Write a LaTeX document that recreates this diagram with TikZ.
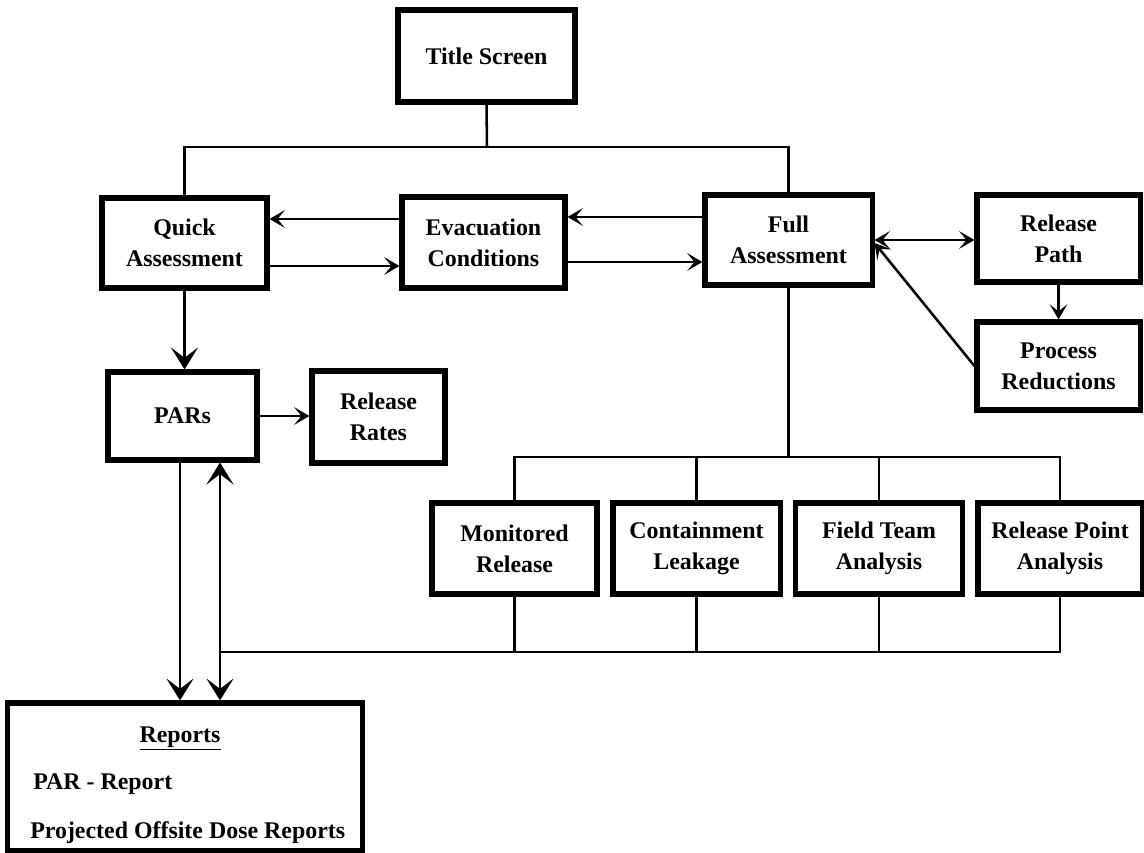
\documentclass[tikz,border=0pt]{standalone}
\usepackage{fontspec}
\setmainfont{Liberation Serif}
\usetikzlibrary{arrows.meta,positioning}
\tikzset{
  block/.style={
    shape = rectangle,
    draw,
    line width = 3.6pt,
    inner sep = 0pt,
    align = center,
    font = \bfseries\fontsize{17}{22}\selectfont
  },
  txt/.style={
    inner sep = 0pt,
    anchor = base west,
    font = \bfseries\fontsize{17}{22}\selectfont
  },
  link/.style={
    line width = 1.8pt
  },
  arr/.style={
    link,
    -{Stealth[length=3.8mm,width=4.4mm,inset=1.8mm]}
  },
  bigarr/.style={
    link,
    -{Stealth[length=5.5mm,width=6.8mm,inset=2.6mm]}
  },
  dblarr/.style={
    link,
    {Stealth[length=3.8mm,width=4.4mm,inset=1.8mm]}-{Stealth[length=3.8mm,width=4.4mm,inset=1.8mm]}
  },
  bigdbl/.style={
    link,
    {Stealth[length=5.5mm,width=6.8mm,inset=2.6mm]}-{Stealth[length=5.5mm,width=6.8mm,inset=2.6mm]}
  }
}

\begin{document}
\begin{tikzpicture}[x=0.025cm, y=-0.025cm]
        \useasboundingbox (0,0) rectangle (1144,853);
        \node[block, minimum width=4.425cm, minimum height=2.3cm] (title) at (486.5,56) {Title Screen};
        \node[block, minimum width=4.125cm, minimum height=2.25cm] (quick) at (184.5,243) {Quick\\Assessment};
        \node[block, minimum width=4.075cm, minimum height=2.275cm] (evac) at (483.5,242.5) {Evacuation\\Conditions};
        \node[block, minimum width=4.175cm, minimum height=2.25cm] (full) at (788.5,240) {Full\\Assessment};
        \node[block, minimum width=4.075cm, minimum height=2.175cm] (relpath) at (1058.5,238.5) {Release\\Path};
        \node[block, minimum width=4.075cm, minimum height=2.2cm] (procred) at (1058.5,366) {Process\\Reductions};
        \node[block, minimum width=3.725cm, minimum height=2.2cm] (pars) at (182.5,416) {PARs};
        \node[block, minimum width=3.325cm, minimum height=2.3cm] (relrates) at (378.5,417) {Release\\Rates};
        \node[block, minimum width=4.125cm, minimum height=2.275cm] (monitored) at (514.5,548.5) {Monitored\\Release};
        \node[block, minimum width=4.175cm, minimum height=2.275cm] (contain) at (696.5,548.5) {Containment\\Leakage};
        \node[block, minimum width=4.175cm, minimum height=2.275cm] (field) at (879,548.5) {Field Team\\Analysis};
        \node[block, minimum width=4.1cm, minimum height=2.275cm] (relpoint) at (1060,548.5) {Release Point\\Analysis};
        \node[block, minimum width=8.85cm, minimum height=3.7cm] (reports) at (185,777) {};
        \node[txt, anchor=base] (rphead) at (180,742) {\underline{Reports}};
        \node[txt] (rpline1) at (33,789) {PAR - Report};
        \node[txt] (rpline2) at (30,838) {Projected Offsite Dose Reports};
        \coordinate (topbar) at (487,147);
        \coordinate (midbar) at (788.5,457);
        \coordinate (lowbar) at (220,652);
        \draw[link] (title.south) -- (topbar);
        \draw[link] (quick.north) |- (topbar) -| (full.north);
        \draw[arr] (evac.west |- 0,219) -- (quick.east |- 0,219);
        \draw[arr] (quick.east |- 0,266) -- (evac.west |- 0,266);
        \draw[arr] (full.west |- 0,217) -- (evac.east |- 0,217);
        \draw[arr] (evac.east |- 0,262) -- (full.west |- 0,262);
        \draw[dblarr] (full.east) -- (relpath.west |- full.east);
        \draw[arr] (relpath.south) -- (procred.north);
        \draw[arr] (procred.west) -- (full.east |- 0,243);
        \draw[bigarr] (quick.south) -- (quick.south |- pars.north);
        \draw[arr] (pars.east) -- (relrates.west |- pars.east);
        \draw[link] (full.south) -- (midbar);
        \draw[link] (monitored.north) |- (midbar) -| (relpoint.north);
        \foreach \n in {contain,field}
            \draw[link] (\n.north) -- (\n.north |- midbar);
        \draw[link] (lowbar) -| (relpoint.south);
        \foreach \n in {monitored,contain,field}
            \draw[link] (\n.south) -- (\n.south |- lowbar);
        \draw[bigarr] (pars.south -| 180,0) -- (reports.north -| 180,0);
        \draw[bigdbl] (pars.south -| lowbar) -- (reports.north -| lowbar);
\end{tikzpicture}
\end{document}
